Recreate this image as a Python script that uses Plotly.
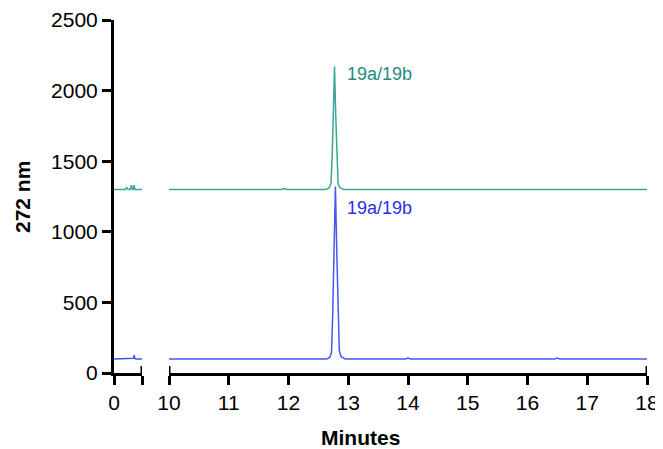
import plotly.graph_objects as go

# ---- data ----
# early segment (0 - 0.5 min)
early_time_teal = [0.0, 0.20, 0.225, 0.25, 0.29, 0.31, 0.33, 0.345, 0.36, 0.375, 0.5]
early_teal = [1300, 1300, 1314, 1300, 1300, 1330, 1300, 1300, 1330, 1300, 1300]
early_time_blue = [0.0, 0.33, 0.35, 0.36, 0.37, 0.39, 0.5]
early_blue = [100, 100, 105, 128, 105, 100, 100]

# main segment (10 - 18 min)
time_teal = [10.0, 11.88, 11.93, 11.98, 12.62, 12.68, 12.71, 12.73, 12.75, 12.77,
             12.79, 12.81, 12.83, 12.86, 12.93, 18.0]
teal = [1300, 1300, 1306, 1300, 1300, 1310, 1340, 1520, 1830, 2170,
        1830, 1520, 1340, 1312, 1300, 1300]
time_blue = [10.0, 12.64, 12.69, 12.72, 12.74, 12.76, 12.785, 12.81, 12.83, 12.85,
             12.88, 12.95, 13.96, 14.0, 14.04, 16.46, 16.5, 16.54, 18.0]
blue = [100, 100, 110, 145, 420, 820, 1320, 820, 420, 160,
        115, 100, 100, 106, 100, 100, 106, 100, 100]

peak_label = "19a/19b"
y_ticks = [0, 500, 1000, 1500, 2000, 2500]
x1_ticks = [0, 0.5]
x1_text = ["0", ""]
x2_ticks = [10, 11, 12, 13, 14, 15, 16, 17, 18]

TEAL = "#3aa698"
TEAL_TXT = "#1d8c80"
BLUE = "#4a55f0"
BLUE_TXT = "#2a2ee6"
FONT = "Liberation Sans, Arial, sans-serif"

fig = go.Figure()
fig.add_trace(go.Scatter(x=early_time_teal, y=early_teal, mode="lines",
                         line=dict(color=TEAL, width=1.5), xaxis="x", yaxis="y"))
fig.add_trace(go.Scatter(x=early_time_blue, y=early_blue, mode="lines",
                         line=dict(color=BLUE, width=1.5), xaxis="x", yaxis="y"))
fig.add_trace(go.Scatter(x=time_teal, y=teal, mode="lines",
                         line=dict(color=TEAL, width=1.5), xaxis="x2", yaxis="y"))
fig.add_trace(go.Scatter(x=time_blue, y=blue, mode="lines",
                         line=dict(color=BLUE, width=1.5), xaxis="x2", yaxis="y"))

axis_common = dict(showline=True, linecolor="black", linewidth=3, ticks="outside",
                   ticklen=9, tickwidth=3, tickcolor="black", showgrid=False,
                   zeroline=False, automargin=False,
                   tickfont=dict(family=FONT, size=21, color="black"))

fig.update_layout(
    width=663, height=449,
    margin=dict(l=106, r=24, t=12, b=84),
    paper_bgcolor="white", plot_bgcolor="white",
    showlegend=False,
    xaxis=dict(domain=[0, 28 / 533], range=[0, 0.5], tickvals=x1_ticks,
               ticktext=x1_text, anchor="y", **axis_common),
    xaxis2=dict(domain=[55 / 533, 1], range=[10, 18], tickvals=x2_ticks,
                anchor="y", **axis_common),
    yaxis=dict(range=[0, 2500], tickvals=y_ticks, anchor="x", **axis_common),
)

# axis break end caps (small upward ticks)
for xr, xv in [("x", 0.5), ("x2", 10), ("x2", 18)]:
    fig.add_shape(type="line", xref=xr, yref="y", x0=xv, x1=xv,
                  ysizemode="pixel", yanchor=0, y0=0, y1=7,
                  line=dict(color="black", width=3))

fig.add_annotation(x=12.94, y=2120, xref="x2", yref="y", text=peak_label,
                   showarrow=False, xanchor="left",
                   font=dict(family=FONT, size=18, color=TEAL_TXT))
fig.add_annotation(x=12.94, y=1170, xref="x2", yref="y", text=peak_label,
                   showarrow=False, xanchor="left",
                   font=dict(family=FONT, size=18, color=BLUE_TXT))

fig.add_annotation(x=(360 - 114) / 533, y=-64 / 353, xref="paper", yref="paper",
                   text="<b>Minutes</b>", showarrow=False, yanchor="middle",
                   font=dict(family=FONT, size=21, color="black"))
fig.add_annotation(x=-92 / 533, y=(373 - 197) / 353, xref="paper", yref="paper",
                   text="<b>272 nm</b>", showarrow=False, textangle=-90,
                   xanchor="center", yanchor="middle",
                   font=dict(family=FONT, size=21, color="black"))

fig.write_html("out.html")
